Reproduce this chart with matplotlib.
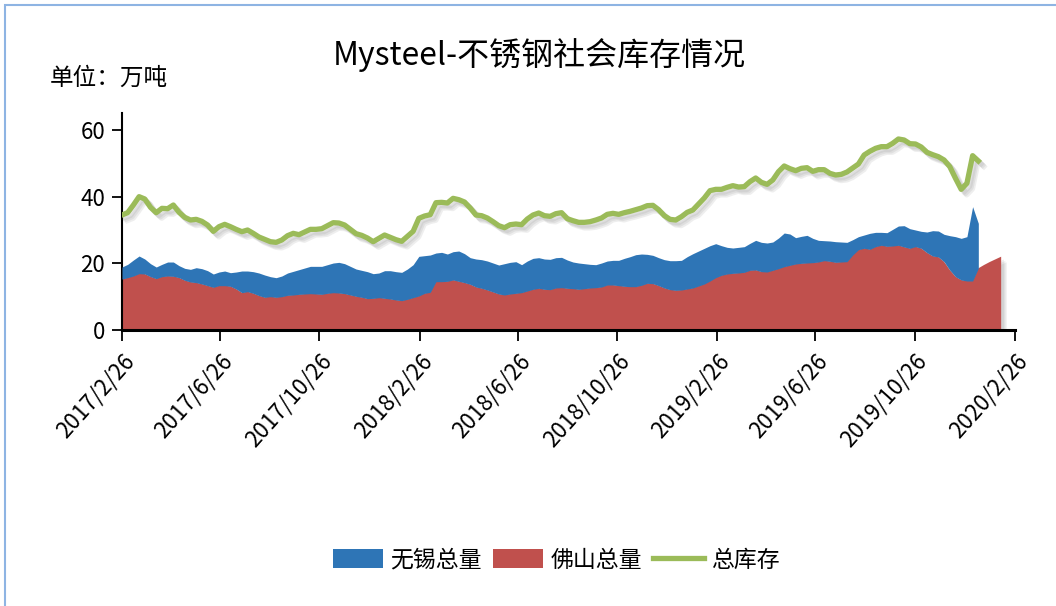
"""
Mysteel 不锈钢社会库存 — stacked area (无锡 / 佛山) plus total stock line
"""

import pandas as pd
import matplotlib
matplotlib.use("Agg")
import matplotlib.pyplot as plt
import matplotlib.patheffects as pe
from matplotlib.patches import Patch, Rectangle
from matplotlib.lines import Line2D

plt.rcParams["font.family"] = ["Noto Sans CJK SC", "DejaVu Sans"]

# weekly observations starting 2017/2/26
START_DATE = "2017-02-26"

TOTAL = [
    34.5, 35.2, 37.5, 40.0, 39.3, 36.8, 35.2, 36.5, 36.4, 37.5,
    35.3, 33.8, 33.0, 33.2, 32.6, 31.5, 29.6, 31.0, 31.7, 31.0,
    30.2, 29.5, 30.0, 29.0, 27.9, 27.2, 26.5, 26.3, 27.0, 28.3,
    29.0, 28.6, 29.4, 30.2, 30.2, 30.4, 31.3, 32.2, 32.1, 31.5,
    30.2, 28.9, 28.4, 27.6, 26.5, 27.5, 28.5, 27.8, 27.1, 26.6,
    28.1, 29.6, 33.5, 34.2, 34.6, 38.2, 38.3, 38.1, 39.5, 39.1,
    38.4, 36.6, 34.5, 34.3, 33.6, 32.5, 31.3, 30.7, 31.6, 31.8,
    31.6, 33.3, 34.5, 35.1, 34.3, 34.1, 34.9, 35.2, 33.4, 32.8,
    32.3, 32.3, 32.5, 33.0, 33.6, 34.7, 35.0, 34.7, 35.2, 35.6,
    36.1, 36.6, 37.3, 37.4, 36.1, 34.3, 33.2, 33.0, 34.0, 35.3,
    36.0, 37.8, 39.6, 41.8, 42.2, 42.2, 42.8, 43.3, 42.9, 43.0,
    44.5, 45.6, 44.3, 43.7, 45.0, 47.5, 49.2, 48.4, 47.8, 48.5,
    48.7, 47.6, 48.1, 48.1, 47.0, 46.5, 46.7, 47.4, 48.6, 49.8,
    52.5, 53.6, 54.5, 55.0, 55.0, 56.0, 57.3, 57.0, 55.9, 55.8,
    54.9, 53.3, 52.6, 52.0, 51.0, 49.0, 45.5, 42.2, 44.0, 52.3,
    50.7,
]

FOSHAN = [
    15.3, 15.7, 16.2, 16.9, 16.8, 16.0, 15.4, 16.0, 16.2, 16.1,
    15.7, 14.9, 14.4, 14.2, 13.8, 13.3, 12.8, 13.3, 13.3, 13.1,
    12.3, 11.2, 11.5, 11.0, 10.3, 9.8, 10.0, 9.8, 10.0, 10.4,
    10.5, 10.7, 10.8, 10.9, 10.8, 10.7, 11.0, 11.2, 11.1, 10.9,
    10.5, 10.1, 9.8, 9.4, 9.5, 9.7, 9.5, 9.3, 9.0, 8.8,
    9.2, 9.7, 10.2, 11.0, 11.3, 14.5, 14.5, 14.6, 15.0, 14.6,
    14.2, 13.7, 12.9, 12.5, 12.0, 11.4, 10.8, 10.5, 10.8, 11.0,
    11.2, 11.7, 12.2, 12.5, 12.2, 12.1, 12.6, 12.7, 12.5, 12.4,
    12.2, 12.4, 12.6, 12.7, 12.9, 13.5, 13.5, 13.3, 13.1, 13.0,
    13.0, 13.4, 14.0, 13.9, 13.3, 12.6, 12.1, 11.9, 12.0, 12.3,
    12.6, 13.2, 13.8, 14.7, 15.7, 16.4, 16.8, 17.0, 17.1, 17.3,
    17.9, 18.0, 17.5, 17.4, 17.9, 18.4, 19.0, 19.4, 19.8, 20.0,
    20.1, 20.2, 20.4, 20.8, 20.6, 20.3, 20.4, 20.5, 22.5, 24.1,
    24.5, 24.2, 25.0, 25.4, 25.1, 25.2, 25.4, 24.9, 24.5, 25.0,
    24.5, 23.2, 22.2, 21.9, 20.5, 18.0, 16.0, 15.0, 14.7, 14.7,
    18.5, 19.5, 20.4, 21.2, 22.0,
]

WUXI = [
    3.6, 4.0, 4.8, 5.3, 4.5, 3.9, 3.5, 3.7, 4.2, 4.3,
    3.6, 3.6, 3.8, 4.5, 4.6, 4.5, 4.0, 4.1, 4.4, 4.1,
    5.1, 6.5, 6.2, 6.5, 6.8, 6.7, 6.0, 5.9, 6.2, 6.7,
    7.1, 7.4, 7.8, 8.2, 8.3, 8.4, 8.6, 8.9, 9.2, 9.0,
    8.6, 8.2, 8.1, 8.1, 7.4, 7.4, 8.3, 8.5, 8.5, 8.5,
    9.1, 9.9, 11.9, 11.3, 11.2, 8.6, 8.8, 8.2, 8.5, 9.1,
    8.7, 8.0, 8.4, 8.6, 8.7, 8.7, 8.7, 9.4, 9.5, 9.5,
    8.4, 9.0, 9.3, 9.2, 9.1, 9.1, 9.1, 9.1, 8.5, 8.0,
    7.9, 7.5, 7.1, 6.9, 7.2, 7.2, 7.4, 7.6, 8.4, 9.0,
    9.6, 9.4, 8.7, 8.5, 8.4, 8.5, 8.7, 8.9, 8.9, 9.7,
    10.3, 10.5, 10.7, 10.6, 10.2, 8.9, 8.0, 7.6, 7.7, 7.7,
    8.1, 8.9, 8.8, 8.7, 8.5, 9.2, 10.1, 9.4, 7.9, 8.1,
    8.3, 7.3, 6.5, 6.0, 6.1, 6.2, 6.0, 5.8, 4.6, 3.9,
    4.0, 4.8, 4.3, 3.9, 4.1, 5.0, 5.8, 6.4, 5.9, 5.0,
    5.1, 6.2, 7.6, 7.8, 8.2, 10.3, 12.0, 12.5, 13.3, 22.3,
    13.5,
]

TICK_DATES = ["2017-02-26", "2017-06-26", "2017-10-26", "2018-02-26", "2018-06-26",
              "2018-10-26", "2019-02-26", "2019-06-26", "2019-10-26", "2020-02-26"]

BLUE = "#2E75B6"
RED = "#C0504D"
GREEN = "#9BBB59"

dates = pd.date_range(START_DATE, periods=len(FOSHAN), freq="7D")
foshan = pd.Series(FOSHAN, index=dates)
wuxi = pd.Series(WUXI, index=dates[:len(WUXI)])
total = pd.Series(TOTAL, index=dates[:len(TOTAL)])

fig = plt.figure(figsize=(10.56, 6.06), dpi=100)
ax = fig.add_axes([0.1155, 0.4554, 0.8457, 0.3576])

# soft drop shadows (a few faint offset copies instead of a blur)
area_shadow = [pe.SimplePatchShadow(offset=(o, -o), shadow_rgbFace="#777777", alpha=0.12)
               for o in (2, 3, 4)] + [pe.Normal()]
line_shadow = [pe.SimpleLineShadow(offset=(o, -o), shadow_color="#777777", alpha=0.12)
               for o in (2, 3, 4)] + [pe.Normal()]

red_fill = ax.fill_between(foshan.index, 0, foshan.values, color=RED, lw=0, zorder=2)
red_fill.set_path_effects(area_shadow)
base = foshan.loc[wuxi.index]
ax.fill_between(wuxi.index, base.values, base.values + wuxi.values,
                color=BLUE, lw=0, zorder=3)
ax.plot(total.index, total.values, color=GREEN, lw=3.8, zorder=4,
        solid_joinstyle="round", path_effects=line_shadow)

ax.set_ylim(0, 65)
ax.set_yticks([0, 20, 40, 60])
ticks = pd.to_datetime(TICK_DATES)
ax.set_xlim(ticks[0], ticks[-1])
ax.set_xticks(ticks)
ax.set_xticklabels([f"{d.year}/{d.month}/{d.day}" for d in ticks],
                   rotation=48, ha="right", rotation_mode="anchor", fontsize=16)
ax.tick_params(axis="y", labelsize=16, length=7, width=1.3, pad=5)
ax.tick_params(axis="x", length=8, width=1.3, pad=6)

for side in ["top", "right"]:
    ax.spines[side].set_visible(False)
ax.spines["left"].set_linewidth(1.5)
ax.spines["bottom"].set_linewidth(2.2)
ax.spines["bottom"].set_zorder(5)

fig.text(539 / 1056, 1 - 55 / 606, "Mysteel-不锈钢社会库存情况",
         ha="center", va="center", fontsize=23)
fig.text(50 / 1056, 1 - 78 / 606, "单位：万吨", ha="left", va="center", fontsize=17)

handles = [Patch(facecolor=BLUE, label="无锡总量"),
           Patch(facecolor=RED, label="佛山总量"),
           Line2D([0], [0], color=GREEN, lw=3.8, label="总库存")]
fig.legend(handles=handles, loc="center", bbox_to_anchor=(556 / 1056, 1 - 560 / 606),
           ncol=3, frameon=False, fontsize=16.5, handlelength=2.2, handleheight=0.9,
           handletextpad=0.3, columnspacing=0.5)

# light blue frame around the chart area
fig.patches.append(Rectangle((5 / 1056, -0.1), 1.2, 1.1 - 5 / 606,
                             transform=fig.transFigure, fill=False,
                             edgecolor="#8EB4E3", lw=1.5, clip_on=False))

fig.savefig("out.png", dpi=100)
